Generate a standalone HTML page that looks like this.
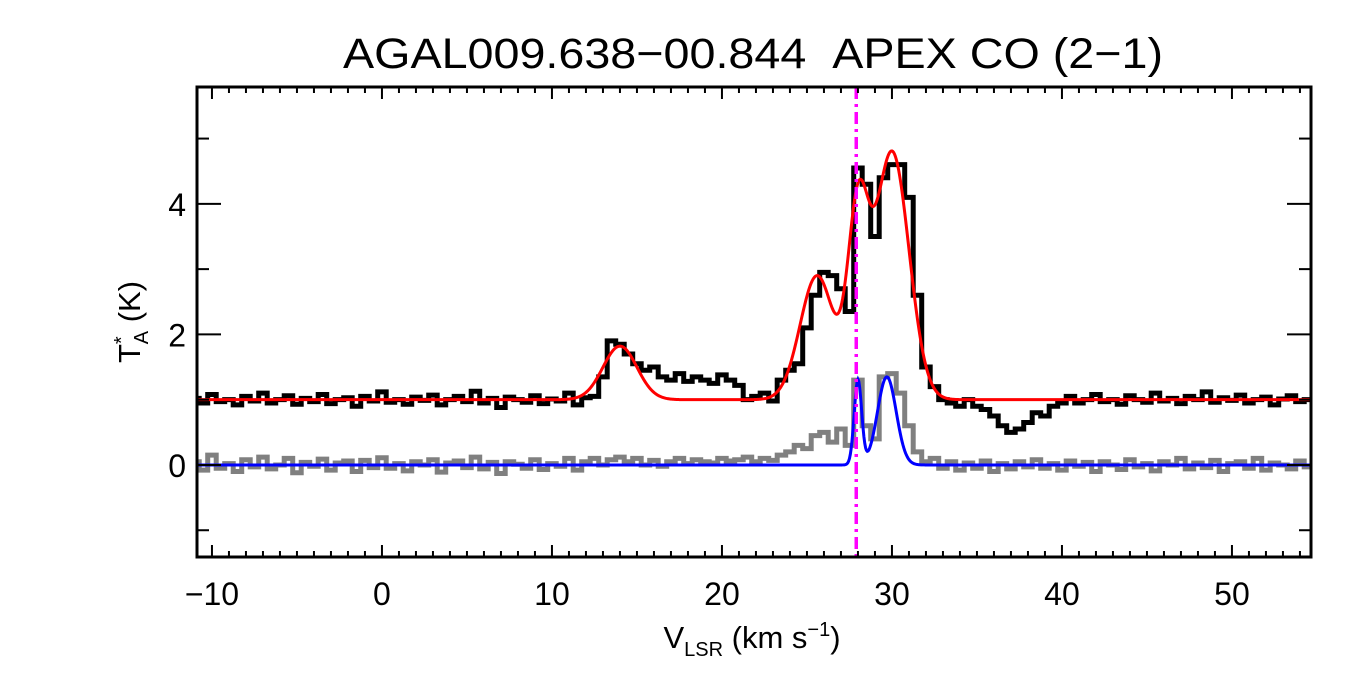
<!DOCTYPE html>
<html><head><meta charset="utf-8"><style>
body{margin:0;background:#fff;}
svg text{font-family:"Liberation Sans",sans-serif;fill:#000;}
</style></head><body>
<svg id="c" width="1350" height="675">
<text x="343" y="68" font-size="43" textLength="820" lengthAdjust="spacingAndGlyphs">AGAL009.638−00.844&#160;&#160;APEX CO (2−1)</text>
<g id="plot"></g>
<rect x="197" y="87" width="1114" height="470" fill="none" stroke="#000" stroke-width="3"/>
<g id="axes"></g>
<text x="752" y="648" font-size="31" text-anchor="middle">V<tspan font-size="20" dy="8">LSR</tspan><tspan dy="-8"> (km s</tspan><tspan font-size="20" dy="-12">−1</tspan><tspan dy="12">)</tspan></text>
<text transform="translate(140,322) rotate(-90)" font-size="31" text-anchor="middle">T<tspan font-size="20" dy="-12">*</tspan><tspan font-size="20" dx="-8" dy="20">A</tspan><tspan dy="-8"> (K)</tspan></text>
</svg>
<script>
const vStart = -11, vStep = 0.5;
const obs = [1.02,0.95,1.08,0.97,1.0,0.92,1.05,0.98,1.1,0.95,1.0,1.06,0.93,1.02,0.97,1.08,0.94,1.0,1.03,0.9,1.05,0.98,1.12,0.96,1.0,0.93,1.04,0.99,1.07,0.92,1.0,1.05,0.97,1.13,0.95,1.02,0.88,1.04,1.0,0.96,1.06,0.94,1.01,0.98,1.1,0.92,1.03,1.05,1.35,1.9,1.85,1.7,1.55,1.45,1.5,1.35,1.3,1.4,1.28,1.35,1.3,1.25,1.38,1.3,1.22,1.0,1.05,1.1,0.98,1.3,1.45,1.55,2.1,2.6,2.95,2.9,2.7,2.35,4.55,4.3,3.5,4.4,4.6,4.6,4.1,2.6,1.5,1.2,1.0,0.95,0.9,1.0,0.9,0.85,0.75,0.6,0.5,0.55,0.65,0.8,0.75,0.9,0.95,1.05,0.95,1.0,1.08,0.97,1.0,0.93,1.06,1.0,0.96,1.1,0.98,1.02,0.94,1.05,1.0,1.12,0.96,1.03,0.99,1.07,0.95,1.0,1.04,0.92,1.01,1.06,0.97,1.0,0.95];
const diff = [0.05,-0.08,0.15,-0.05,0.02,-0.1,0.08,-0.03,0.12,-0.06,0.0,0.1,-0.12,0.04,-0.02,0.09,-0.08,0.03,0.06,-0.1,0.07,-0.04,0.11,-0.05,0.02,-0.09,0.05,0.0,0.08,-0.11,0.03,0.06,-0.04,0.12,-0.06,0.04,-0.13,0.05,0.01,-0.05,0.08,-0.07,0.02,-0.02,0.1,-0.08,0.05,0.1,0.0,0.08,0.12,0.05,0.1,0.0,0.07,-0.02,0.05,0.1,0.02,0.08,0.05,0.03,0.1,0.06,0.08,0.12,0.05,0.1,0.07,0.15,0.2,0.3,0.25,0.45,0.5,0.35,0.55,0.3,1.3,0.6,0.4,1.35,1.4,1.1,0.6,0.2,0.05,0.1,-0.05,0.05,-0.08,0.03,-0.05,0.06,-0.1,0.02,-0.06,0.05,-0.03,0.08,-0.05,0.02,-0.08,0.06,-0.02,0.04,-0.1,0.05,0.0,-0.07,0.08,-0.03,0.02,-0.09,0.05,0.0,0.1,-0.06,0.03,-0.04,0.07,-0.1,0.02,0.05,-0.05,0.1,-0.08,0.03,0.0,-0.06,0.06,-0.03,0.02];
const fitCentres = [14.0,25.6,28.0,30.0];
const fitAmps = [0.82,1.9,2.7,3.8];
const fitSigmas = [1.0,1.0,0.6,1.0];
const fitBase = 1.0;
const diffCentres = [28.0,29.7];
const diffAmps = [1.3,1.35];
const diffSigmas = [0.22,0.55];
const vMarker = 27.9;
const xTicks = [-10,0,10,20,30,40,50];
const yTicks = [0,2,4];

const X0=197,X1=1311,Y0=87,Y1=557;
const xmin=-10.88, xmax=54.65, ymin=-1.41, ymax=5.79;
const sx=v=>X0+(v-xmin)/(xmax-xmin)*(X1-X0);
const sy=t=>Y1-(t-ymin)/(ymax-ymin)*(Y1-Y0);
const NS='http://www.w3.org/2000/svg';
const plot=document.getElementById('plot'), axes=document.getElementById('axes');
function mk(tag,attrs,parent){const e=document.createElementNS(NS,tag);for(const k in attrs)e.setAttribute(k,attrs[k]);parent.appendChild(e);return e;}
const clip=mk('clipPath',{id:'cp'},plot);mk('rect',{x:X0,y:Y0,width:X1-X0,height:Y1-Y0},clip);
const g=mk('g',{'clip-path':'url(#cp)'},plot);
function stepPath(arr){let d='';arr.forEach((t,i)=>{const a=sx(vStart+i*vStep-vStep/2),b=sx(vStart+i*vStep+vStep/2),y=sy(t);d+=(i?'L':'M')+a+','+y+'L'+b+','+y;});return d;}
function gaussPath(base,c,a,s){let d='';for(let v=-12;v<=56;v+=0.05){let t=base;for(let k=0;k<c.length;k++)t+=a[k]*Math.exp(-0.5*((v-c[k])/s[k])**2);d+=(d?'L':'M')+sx(v)+','+sy(t);}return d;}
const p1=mk('path',{d:stepPath(diff),fill:'none',stroke:'#808080','stroke-width':5},g);


const p2=mk('path',{d:stepPath(obs),fill:'none',stroke:'#000','stroke-width':5},g);


const p3=mk('path',{d:gaussPath(0,diffCentres,diffAmps,diffSigmas),fill:'none',stroke:'#0000ff','stroke-width':3},g);


const p4=mk('path',{d:gaussPath(fitBase,fitCentres,fitAmps,fitSigmas),fill:'none',stroke:'#ff0000','stroke-width':3},g);


const m=mk('line',{x1:sx(vMarker),x2:sx(vMarker),y1:Y0,y2:Y1,stroke:'#ff00ff','stroke-width':3.5,'stroke-dasharray':'12,5,3,5'},g);


for(let v=-10;v<=54;v++){const x=sx(v),L=(v%10===0)?12:6;
 mk('line',{x1:x,x2:x,y1:Y1,y2:Y1-L,stroke:'#000','stroke-width':2},axes);
 mk('line',{x1:x,x2:x,y1:Y0,y2:Y0+L,stroke:'#000','stroke-width':2},axes);}
xTicks.forEach(v=>{const t=mk('text',{x:sx(v),y:605,'font-size':32,'text-anchor':'middle'},axes);t.textContent=(v<0?'−':'')+Math.abs(v);
 
 });
for(let y=-1;y<=5;y++){const py=sy(y),L=(y%2===0)?24:12;
 mk('line',{x1:X0,x2:X0+L,y1:py,y2:py,stroke:'#000','stroke-width':2},axes);
 mk('line',{x1:X1,x2:X1-L,y1:py,y2:py,stroke:'#000','stroke-width':2},axes);}
yTicks.forEach(v=>{const t=mk('text',{x:186,y:sy(v)+12,'font-size':32,'text-anchor':'end'},axes);t.textContent=v;
 
 });
</script>
</body></html>
